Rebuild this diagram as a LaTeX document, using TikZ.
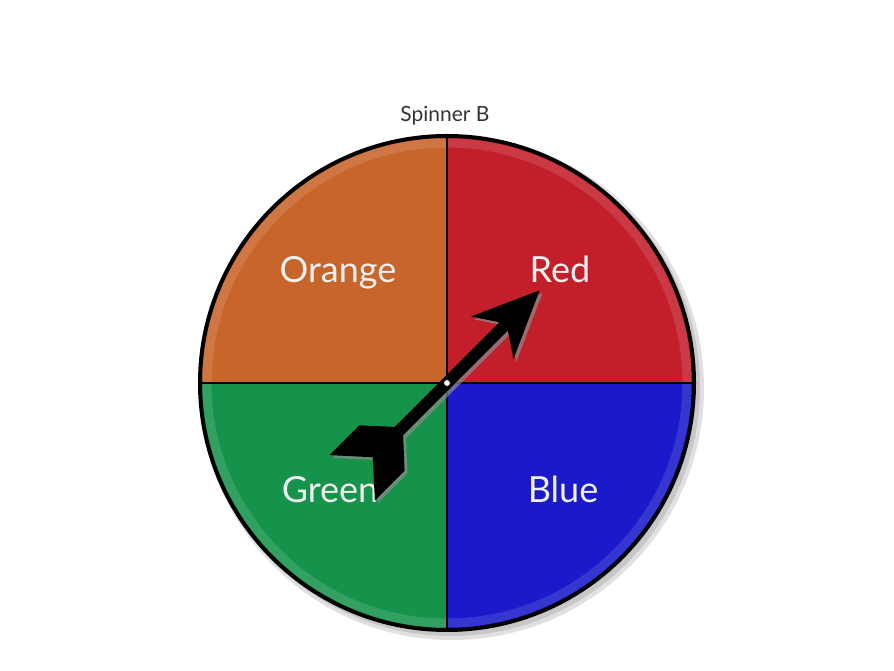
\documentclass[tikz,border=0pt]{standalone}
\usepackage{fontspec}
\setmainfont{Lato}
\definecolor{spinOrange}{HTML}{C8652B}
\definecolor{spinRed}{HTML}{C31F2B}
\definecolor{spinGreen}{HTML}{15934A}
\definecolor{spinBlue}{HTML}{1A1ACA}
\definecolor{titleGrey}{HTML}{333333}
\begin{document}
\begin{tikzpicture}[x=1pt,y=1pt,
		lbl/.style={anchor=base,text=white!94!black,font=\fontsize{36}{40}\selectfont},
		divider/.style={line width=1.6pt,black}]
		\useasboundingbox (0,0) rectangle (894,671);
		\coordinate (C) at (447,288);
		\coordinate (top) at (447,536);
		\coordinate (bottom) at (447,40);
		\coordinate (left) at (199,288);
		\coordinate (right) at (695,288);
		
		\node[anchor=base,text=titleGrey,font=\fontsize{21}{24}\selectfont] (title) at (445,549) {Spinner B};
		
		\fill[black!12] ([shift={(5,-5)}]C) circle(252pt);
		\fill[black!22] ([shift={(4,-4)}]C) circle(249pt);
		
		\fill[spinRed] (C) -- (top) arc[start angle=90,end angle=0,radius=248pt] -- cycle;
		\fill[spinOrange] (C) -- (top) arc[start angle=90,end angle=180,radius=248pt] -- cycle;
		\fill[spinGreen] (C) -- (bottom) arc[start angle=270,end angle=180,radius=248pt] -- cycle;
		\fill[spinBlue] (C) -- (bottom) arc[start angle=270,end angle=360,radius=248pt] -- cycle;
		\draw[white,opacity=0.12,line width=9pt] (C) circle(240pt);
		
		\draw[divider] (top) -- (bottom);
		\draw[divider] (left) -- (right);
		\draw[line width=4pt] (C) circle(247pt);
		
		\node[lbl] (orange) at (338,388) {Orange};
		\node[lbl] (red) at (560,388) {Red};
		\node[lbl] (green) at (330,168) {Green};
		\node[lbl] (blue) at (563,168) {Blue};
		
		\begin{scope}[shift={(C)},rotate=45]
			\fill[black!45,opacity=0.7] (131,-4) -- (64,26) -- (80,2) -- (-68,2) -- (-92,28) -- (-134,28) -- (-105,-4) -- (-134,-36) -- (-92,-36) -- (-68,-10) -- (80,-10) -- (64,-34) -- cycle;
			\fill[black] (131,0) -- (64,30) -- (80,6) -- (-68,6) -- (-92,32) -- (-134,32) -- (-105,0) -- (-134,-32) -- (-92,-32) -- (-68,-6) -- (80,-6) -- (64,-30) -- cycle;
		\end{scope}
		
		\node[circle,fill=white,draw=black,line width=0.8pt,inner sep=0pt,minimum size=7pt] (pivot) at (C) {};
\end{tikzpicture}
\end{document}
